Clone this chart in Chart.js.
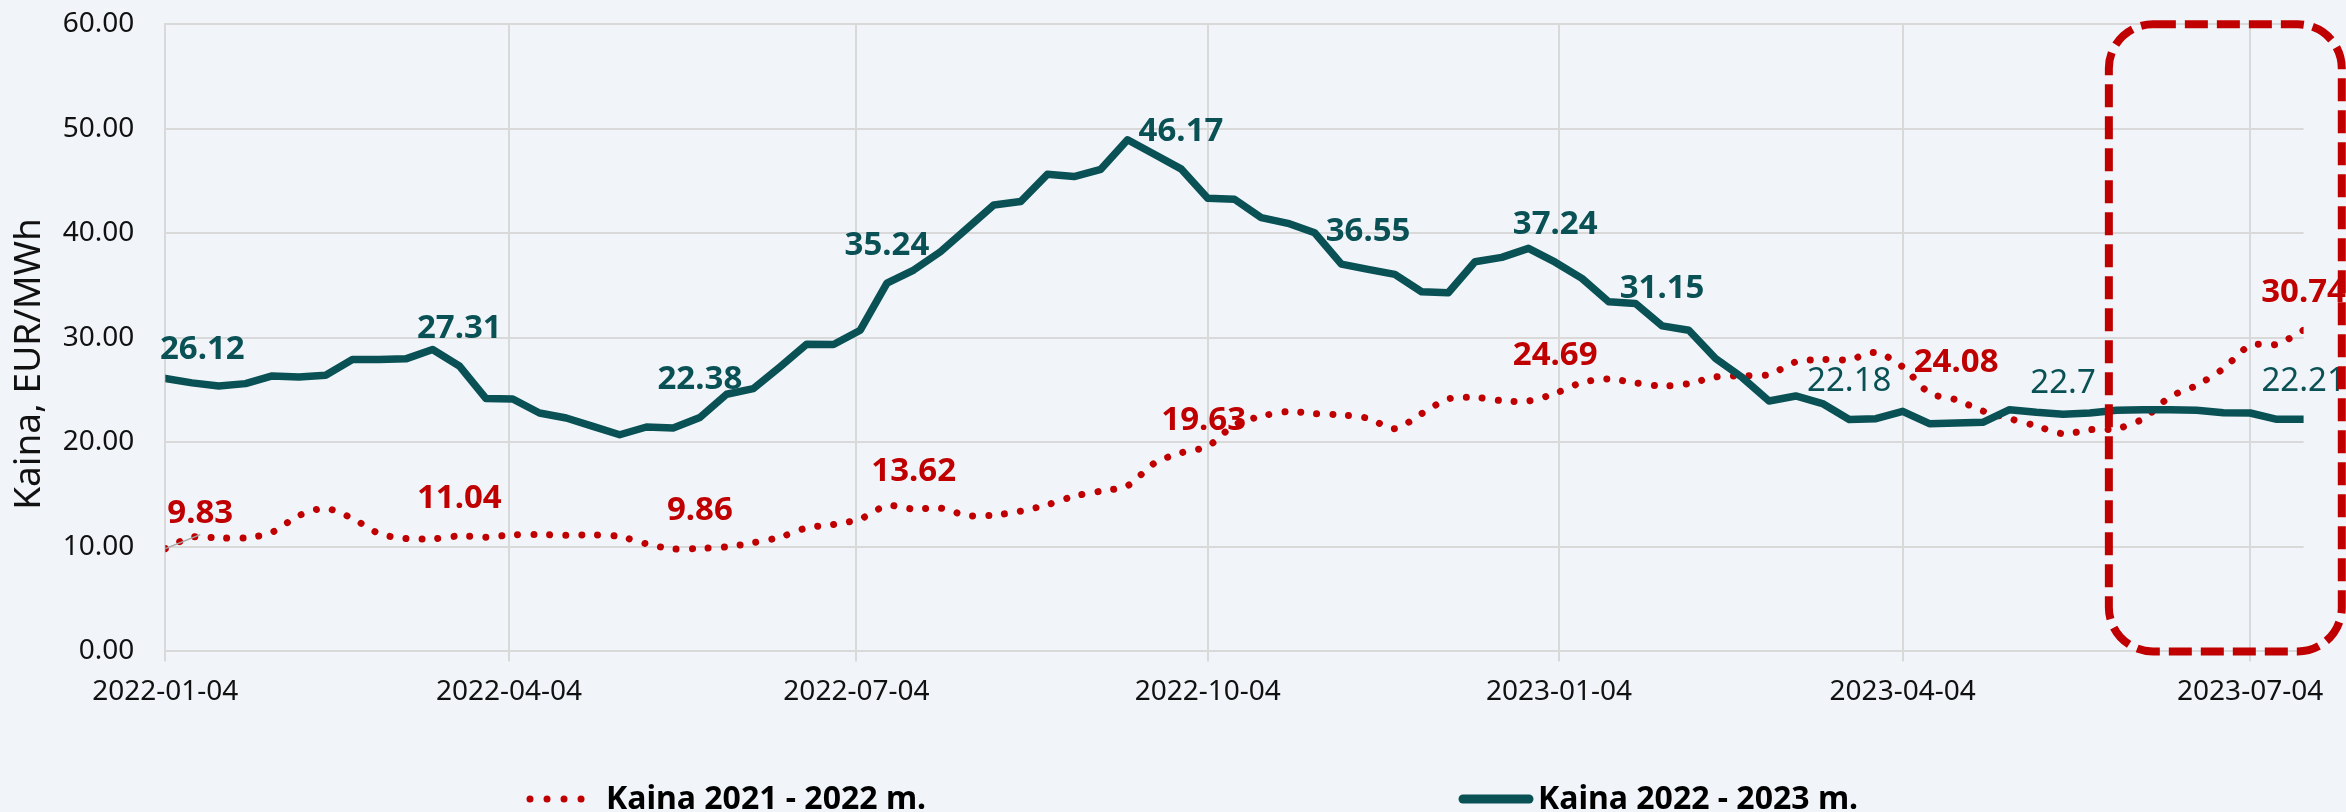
<!DOCTYPE html>
<html>
<head>
<meta charset="utf-8">
<script src="https://cdn.jsdelivr.net/npm/chart.js@4.4.1/dist/chart.umd.min.js"></script>
<style>
  html, body { margin: 0; padding: 0; background: #f1f5f9; }
  canvas { display: block; }
</style>
</head>
<body>
<canvas id="c" width="2346" height="812"></canvas>
<script>
// ---------------- DATA ----------------
const weekDates = [
  '2022-01-04','2022-01-11','2022-01-18','2022-01-25','2022-02-01','2022-02-08','2022-02-15','2022-02-22',
  '2022-03-01','2022-03-08','2022-03-15','2022-03-22','2022-03-29','2022-04-05','2022-04-12','2022-04-19',
  '2022-04-26','2022-05-03','2022-05-10','2022-05-17','2022-05-24','2022-05-31','2022-06-07','2022-06-14',
  '2022-06-21','2022-06-28','2022-07-05','2022-07-12','2022-07-19','2022-07-26','2022-08-02','2022-08-09',
  '2022-08-16','2022-08-23','2022-08-30','2022-09-06','2022-09-13','2022-09-20','2022-09-27','2022-10-04',
  '2022-10-11','2022-10-18','2022-10-25','2022-11-01','2022-11-08','2022-11-15','2022-11-22','2022-11-29',
  '2022-12-06','2022-12-13','2022-12-20','2022-12-27','2023-01-03','2023-01-10','2023-01-17','2023-01-24',
  '2023-01-31','2023-02-07','2023-02-14','2023-02-21','2023-02-28','2023-03-07','2023-03-14','2023-03-21',
  '2023-03-28','2023-04-04','2023-04-11','2023-04-18','2023-04-25','2023-05-02','2023-05-09','2023-05-16',
  '2023-05-23','2023-05-30','2023-06-06','2023-06-13','2023-06-20','2023-06-27','2023-07-04','2023-07-11',
  '2023-07-18'
];

const xTickDates = ['2022-01-04','2022-04-04','2022-07-04','2022-10-04','2023-01-04','2023-04-04','2023-07-04'];
const yTickValues = [0, 10, 20, 30, 40, 50, 60];

// Kaina 2021 - 2022 m. (dotted red)
const price2122 = [
  9.83, 10.93, 10.86, 10.86, 11.40, 13.00, 13.67, 12.72, 11.28, 10.80,
  10.77, 11.04, 10.93, 11.15, 11.18, 11.12, 11.15, 10.99, 10.29, 9.81,
  9.86, 10.00, 10.40, 10.93, 11.82, 12.14, 12.68, 13.93, 13.62, 13.71,
  13.00, 13.04, 13.42, 14.03, 14.85, 15.34, 15.85, 18.00, 19.00, 19.63,
  21.66, 22.49, 22.94, 22.75, 22.62, 22.30, 21.31, 22.75, 24.15, 24.31,
  23.99, 23.96, 24.69, 25.72, 26.07, 25.69, 25.40, 25.62, 26.26, 26.36,
  26.49, 27.70, 27.92, 27.92, 28.59, 27.22, 24.73, 24.08, 23.00, 22.27,
  21.57, 20.83, 21.21, 21.31, 22.27, 24.35, 25.46, 27.06, 29.27, 29.39,
  30.74
];

// Kaina 2022 - 2023 m. (solid teal)
const price2223 = [
  26.12, 25.69, 25.40, 25.62, 26.36, 26.26, 26.42, 27.92, 27.92, 27.99,
  28.88, 27.31, 24.19, 24.15, 22.81, 22.33, 21.53, 20.73, 21.47, 21.37,
  22.38, 24.60, 25.14, 27.22, 29.39, 29.36, 30.73, 35.24, 36.49, 38.24,
  40.48, 42.72, 43.04, 45.65, 45.43, 46.13, 48.95, 47.57, 46.17, 43.35,
  43.26, 41.50, 40.96, 40.06, 37.06, 36.55, 36.07, 34.41, 34.31, 37.28,
  37.70, 38.56, 37.24, 35.69, 33.45, 33.29, 31.15, 30.73, 28.02, 26.20,
  23.96, 24.44, 23.71, 22.18, 22.27, 22.97, 21.79, 21.85, 21.92, 23.13,
  22.88, 22.70, 22.81, 23.07, 23.13, 23.13, 23.07, 22.84, 22.81, 22.20,
  22.21
];

const seriesNames = ['Kaina 2021 - 2022 m.', 'Kaina 2022 - 2023 m.'];
const yAxisTitle = 'Kaina, EUR/MWh';

// indices of points carrying a value label
const label2122Idx = [0, 11, 20, 28, 39, 52, 67, 80];
const label2223Idx = [0, 11, 20, 27, 38, 45, 52, 56, 63, 71, 80];

// highlighted period (dashed rounded box)
const highlightFrom = '2023-05-28';
const highlightTo = '2023-07-28';

// ---------------- HELPERS ----------------
const BASE = Date.UTC(2022, 0, 4);
function dayOf(s) {
  const [y, m, d] = s.split('-').map(Number);
  return (Date.UTC(y, m - 1, d) - BASE) / 86400000;
}
function dayToStr(v) {
  const dt = new Date(BASE + v * 86400000);
  const mm = String(dt.getUTCMonth() + 1).padStart(2, '0');
  const dd = String(dt.getUTCDate()).padStart(2, '0');
  return dt.getUTCFullYear() + '-' + mm + '-' + dd;
}

const RED = '#c00000';
const TEAL = '#0a5156';
const GRID = '#d9d9d9';
const BG = '#f1f5f9';
const FONT = '"Noto Sans", "DejaVu Sans", sans-serif';

const xDays = weekDates.map(dayOf);
const xTickDays = xTickDates.map(dayOf);

// ---------------- PLUGINS ----------------
const bgPlugin = {
  id: 'bg',
  beforeDraw(chart) {
    const ctx = chart.ctx;
    ctx.save();
    ctx.fillStyle = BG;
    ctx.fillRect(0, 0, chart.width, chart.height);
    ctx.restore();
  }
};

const labelPlugin = {
  id: 'valueLabels',
  afterDatasetsDraw(chart) {
    const ctx = chart.ctx;
    const special = {
      '0:0': { dx: 35, dy: -37, leader: true },
      '1:0': { dx: 37, dy: -31 },
      '1:71': { dx: 0, dy: -33 },
      '0:39': { dx: -4, dy: -28 }
    };
    const lightTeal = [63, 71, 80];
    const groups = [
      { ds: 0, idxs: label2122Idx, values: price2122, color: RED },
      { ds: 1, idxs: label2223Idx, values: price2223, color: TEAL }
    ];
    ctx.save();
    ctx.textAlign = 'center';
    ctx.textBaseline = 'alphabetic';
    const size = 33;
    groups.forEach(g => {
      const meta = chart.getDatasetMeta(g.ds);
      g.idxs.forEach(i => {
        const pt = meta.data[i];
        const sp = special[g.ds + ':' + i] || { dx: 0, dy: -40 };
        const cx = pt.x + sp.dx;
        const cy = pt.y + sp.dy;
        if (sp.leader) {
          ctx.strokeStyle = '#a6a6a6';
          ctx.lineWidth = 1.5;
          ctx.setLineDash([]);
          ctx.beginPath();
          ctx.moveTo(pt.x, pt.y);
          ctx.lineTo(pt.x + 35, pt.y - 14);
          ctx.stroke();
        }
        const weight = (g.ds === 1 && lightTeal.includes(i)) ? 'normal' : 'bold';
        ctx.font = weight + ' ' + size + 'px ' + FONT;
        ctx.fillStyle = g.color;
        ctx.fillText(String(g.values[i]), cx, cy + size * 0.357);
      });
    });
    ctx.restore();
  }
};

const overlayPlugin = {
  id: 'overlay',
  afterDraw(chart) {
    const ctx = chart.ctx;
    const xs = chart.scales.x, ys = chart.scales.y;
    // dashed rounded highlight box
    const x1 = xs.getPixelForValue(dayOf(highlightFrom));
    const x2 = xs.getPixelForValue(dayOf(highlightTo));
    const y1 = ys.getPixelForValue(60);
    const y2 = ys.getPixelForValue(0);
    ctx.save();
    ctx.strokeStyle = RED;
    ctx.lineWidth = 8;
    ctx.setLineDash([23, 9]);
    ctx.beginPath();
    ctx.roundRect(x1, y1, x2 - x1, y2 - y1, 44);
    ctx.stroke();
    ctx.restore();

    // y axis title
    ctx.save();
    ctx.translate(29, 364);
    ctx.rotate(-Math.PI / 2);
    ctx.font = '37px ' + FONT;
    ctx.fillStyle = '#111';
    ctx.textAlign = 'center';
    ctx.textBaseline = 'middle';
    ctx.fillText(yAxisTitle, 0, 0);
    ctx.restore();

    // legend
    ctx.save();
    const ly = 799, base = 809;
    ctx.lineCap = 'round';
    ctx.strokeStyle = RED;
    ctx.lineWidth = 7;
    ctx.setLineDash([0.01, 17]);
    ctx.beginPath(); ctx.moveTo(530, ly); ctx.lineTo(598, ly); ctx.stroke();
    ctx.setLineDash([]);
    ctx.strokeStyle = TEAL;
    ctx.lineWidth = 9;
    ctx.beginPath(); ctx.moveTo(1463, ly); ctx.lineTo(1529, ly); ctx.stroke();
    ctx.font = 'bold 32px ' + FONT;
    ctx.fillStyle = '#000';
    ctx.textAlign = 'left';
    ctx.textBaseline = 'alphabetic';
    ctx.fillText(seriesNames[0], 606, base);
    ctx.fillText(seriesNames[1], 1538, base);
    ctx.restore();
  }
};

// ---------------- CHART ----------------
new Chart(document.getElementById('c'), {
  type: 'line',
  data: {
    datasets: [
      {
        label: seriesNames[0],
        data: xDays.map((x, i) => ({ x, y: price2122[i] })),
        borderColor: RED,
        borderWidth: 7,
        borderDash: [0.01, 16],
        borderCapStyle: 'round',
        borderJoinStyle: 'round',
        tension: 0.3,
        pointRadius: 0,
        fill: false,
        order: 1
      },
      {
        label: seriesNames[1],
        data: xDays.map((x, i) => ({ x, y: price2223[i] })),
        borderColor: TEAL,
        borderWidth: 7.5,
        borderCapStyle: 'round',
        borderJoinStyle: 'round',
        tension: 0,
        pointRadius: 0,
        fill: false,
        order: 0
      }
    ]
  },
  options: {
    responsive: false,
    animation: false,
    devicePixelRatio: 1,
    layout: { padding: { top: 24.3, right: 42.4, bottom: 0, left: 0 } },
    plugins: {
      legend: { display: false },
      tooltip: { enabled: false }
    },
    scales: {
      x: {
        type: 'linear',
        min: 0,
        max: xDays[xDays.length - 1],
        afterBuildTicks(scale) {
          scale.ticks = xTickDays.map(v => ({ value: v }));
        },
        afterFit(scale) {
          scale.height = 160.6;
          scale.paddingLeft = 0; scale.paddingRight = 0;
          scale.paddingTop = 0; scale.paddingBottom = 0;
        },
        grid: {
          color: GRID,
          lineWidth: 2,
          drawTicks: true,
          tickLength: 10,
          tickColor: GRID
        },
        border: { display: true, color: GRID, width: 2 },
        ticks: {
          autoSkip: false,
          maxRotation: 0,
          padding: 14,
          color: '#111',
          font: { family: FONT, size: 28 },
          callback: v => dayToStr(v)
        }
      },
      y: {
        min: 0,
        max: 60,
        afterBuildTicks(scale) {
          scale.ticks = yTickValues.map(v => ({ value: v }));
        },
        afterFit(scale) {
          scale.width = 165.3;
          scale.paddingTop = 0; scale.paddingBottom = 0;
          scale.paddingLeft = 0; scale.paddingRight = 0;
        },
        grid: {
          color: GRID,
          lineWidth: 2,
          drawTicks: false
        },
        border: { display: true, color: GRID, width: 2 },
        ticks: {
          padding: 31,
          color: '#111',
          font: { family: FONT, size: 28 },
          callback: v => Number(v).toFixed(2)
        }
      }
    }
  },
  plugins: [bgPlugin, labelPlugin, overlayPlugin]
});
</script>
</body>
</html>
